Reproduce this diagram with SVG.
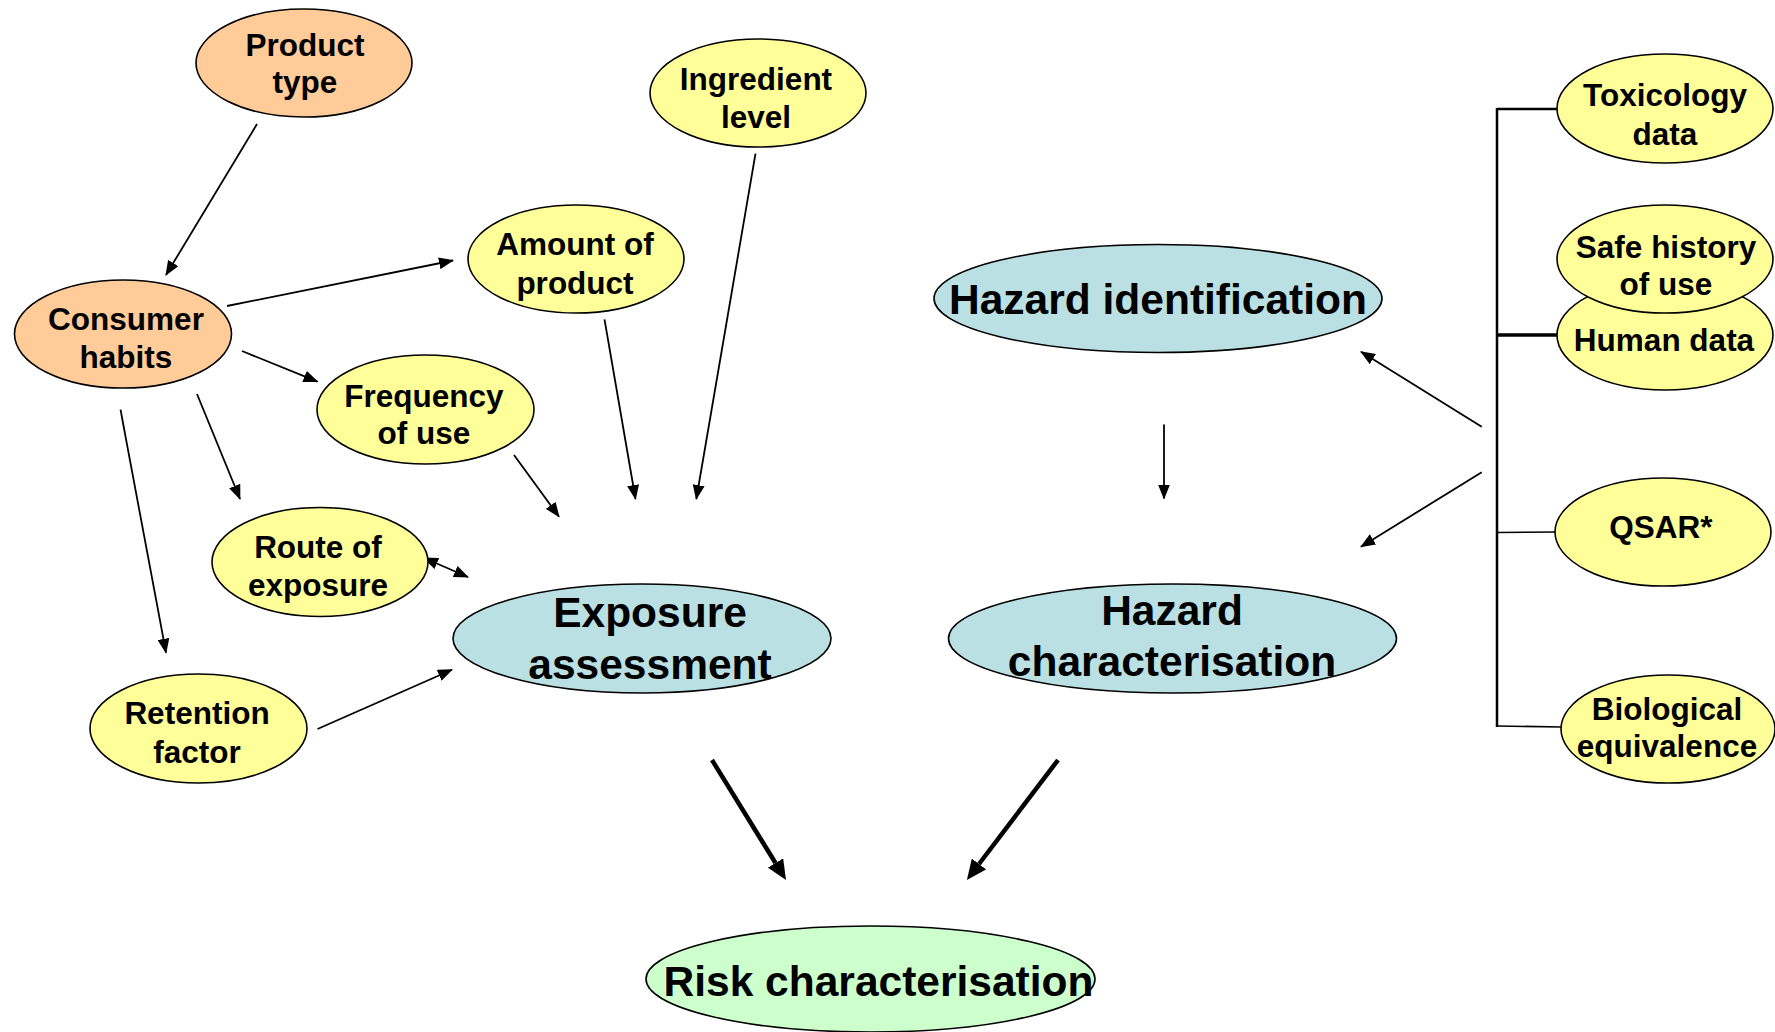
<svg xmlns="http://www.w3.org/2000/svg" width="1775" height="1032" viewBox="0 0 1775 1032">
<style>
  .node ellipse { stroke: #000; stroke-width: 1.6; }
  .orange { fill: #FFCC99; }
  .yellow { fill: #FFFF99; }
  .blue { fill: #BBE0E3; }
  .green { fill: #CCFFCC; }
  text { font-family: "Liberation Sans", Arial, sans-serif; font-weight: bold; fill: #000; text-anchor: middle; }
  .s { font-size: 31.5px; }
  .b { font-size: 42.5px; }
  .thin { stroke: #000; stroke-width: 1.8; fill: none; marker-end: url(#ah); }
  .thick { stroke: #000; stroke-width: 4.5; fill: none; marker-end: url(#ahb); }
  .br { stroke: #000; fill: none; }
</style>
<defs>
  <marker id="ah" markerUnits="userSpaceOnUse" markerWidth="15" markerHeight="12" viewBox="0 0 15 12" refX="14" refY="6" orient="auto-start-reverse">
    <path d="M0,0 L15,6 L0,12 z" fill="#000"/>
  </marker>
  <marker id="ahb" markerUnits="userSpaceOnUse" markerWidth="20" markerHeight="18" viewBox="0 0 20 18" refX="0" refY="9" orient="auto">
    <path d="M0,0 L20,9 L0,18 z" fill="#000"/>
  </marker>
</defs>
<rect width="1775" height="1032" fill="#fff"/>

<g id="connectors">
  <line class="thin" x1="257" y1="124" x2="166" y2="275"/>
  <line class="thin" x1="227" y1="306" x2="453" y2="260.5"/>
  <line class="thin" x1="242" y1="351" x2="317.5" y2="381.7"/>
  <line class="thin" x1="197" y1="394" x2="240" y2="499"/>
  <line class="thin" x1="120.5" y1="409.6" x2="166" y2="652.7"/>
  <line class="thin" x1="514" y1="455" x2="559" y2="516.7"/>
  <line class="thin" x1="604.5" y1="319.4" x2="635.5" y2="499"/>
  <line class="thin" x1="755.5" y1="153.6" x2="696.3" y2="499"/>
  <line class="thin" x1="424" y1="558" x2="468" y2="577" marker-start="url(#ah)"/>
  <line class="thin" x1="317.5" y1="729" x2="452" y2="669.7"/>
  <line class="thin" x1="1164" y1="424.5" x2="1164" y2="498.5"/>
  <line class="thin" x1="1481.7" y1="426.7" x2="1361" y2="351.7"/>
  <line class="thin" x1="1481.7" y1="472.3" x2="1361" y2="546.7"/>
  <line class="thick" x1="712" y1="760" x2="775.5" y2="863"/>
  <line class="thick" x1="1058" y1="760" x2="979" y2="864"/>
  <g id="bracket">
    <line class="br" stroke-width="2.5" x1="1497" y1="108" x2="1497" y2="727"/>
    <line class="br" stroke-width="2.5" x1="1497" y1="109" x2="1558" y2="109"/>
    <line class="br" stroke-width="3.5" x1="1497" y1="335" x2="1558" y2="335"/>
    <line class="br" stroke-width="1.6" x1="1497" y1="532.5" x2="1556" y2="532"/>
    <line class="br" stroke-width="1.6" x1="1497" y1="726" x2="1562" y2="727"/>
  </g>
</g>

<g id="product-type" class="node">
  <ellipse class="orange" cx="304" cy="63" rx="108" ry="54"/>
  <text class="s" x="305" y="56">Product</text>
  <text class="s" x="305" y="93">type</text>
</g>
<g id="ingredient-level" class="node">
  <ellipse class="yellow" cx="758" cy="93" rx="108" ry="54"/>
  <text class="s" x="756" y="90">Ingredient</text>
  <text class="s" x="756" y="128">level</text>
</g>
<g id="amount-of-product" class="node">
  <ellipse class="yellow" cx="576" cy="259" rx="108" ry="54"/>
  <text class="s" x="575" y="255">Amount of</text>
  <text class="s" x="575" y="294">product</text>
</g>
<g id="consumer-habits" class="node">
  <ellipse class="orange" cx="123" cy="334" rx="108.5" ry="54"/>
  <text class="s" x="126" y="330">Consumer</text>
  <text class="s" x="126" y="368">habits</text>
</g>
<g id="frequency-of-use" class="node">
  <ellipse class="yellow" cx="425.5" cy="409.5" rx="108.5" ry="54.5"/>
  <text class="s" x="424" y="407">Frequency</text>
  <text class="s" x="424" y="444">of use</text>
</g>
<g id="route-of-exposure" class="node">
  <ellipse class="yellow" cx="320" cy="562" rx="108" ry="54.5"/>
  <text class="s" x="318" y="558">Route of</text>
  <text class="s" x="318" y="596">exposure</text>
</g>
<g id="retention-factor" class="node">
  <ellipse class="yellow" cx="198.5" cy="728.5" rx="108.5" ry="54.5"/>
  <text class="s" x="197" y="724">Retention</text>
  <text class="s" x="197" y="763">factor</text>
</g>
<g id="exposure-assessment" class="node">
  <ellipse class="blue" cx="642" cy="638.5" rx="189" ry="54.5"/>
  <text class="b" x="650" y="627">Exposure</text>
  <text class="b" x="650" y="679">assessment</text>
</g>
<g id="hazard-identification" class="node">
  <ellipse class="blue" cx="1158" cy="298.5" rx="224" ry="54"/>
  <text class="b" x="1158" y="314">Hazard identification</text>
</g>
<g id="hazard-characterisation" class="node">
  <ellipse class="blue" cx="1172.5" cy="638.5" rx="224" ry="54.5"/>
  <text class="b" x="1172" y="625">Hazard</text>
  <text class="b" x="1172" y="676">characterisation</text>
</g>
<g id="risk-characterisation" class="node">
  <ellipse class="green" cx="870.5" cy="979" rx="224.5" ry="53"/>
  <text class="b" x="878.5" y="996">Risk characterisation</text>
</g>
<g id="toxicology-data" class="node">
  <ellipse class="yellow" cx="1665" cy="108.5" rx="108" ry="54.5"/>
  <text class="s" x="1665" y="106">Toxicology</text>
  <text class="s" x="1665" y="145">data</text>
</g>
<g id="human-data" class="node">
  <ellipse class="yellow" cx="1665" cy="335" rx="108" ry="55"/>
  <text class="s" x="1664" y="351">Human data</text>
</g>
<g id="safe-history-of-use" class="node">
  <ellipse class="yellow" cx="1665" cy="259" rx="108" ry="54"/>
  <text class="s" x="1666" y="258">Safe history</text>
  <text class="s" x="1666" y="295">of use</text>
</g>
<g id="qsar" class="node">
  <ellipse class="yellow" cx="1663" cy="532" rx="108" ry="54"/>
  <text class="s" x="1661" y="538">QSAR*</text>
</g>
<g id="biological-equivalence" class="node">
  <ellipse class="yellow" cx="1668" cy="729" rx="107" ry="54"/>
  <text class="s" x="1667" y="720">Biological</text>
  <text class="s" x="1667" y="757">equivalence</text>
</g>
</svg>
